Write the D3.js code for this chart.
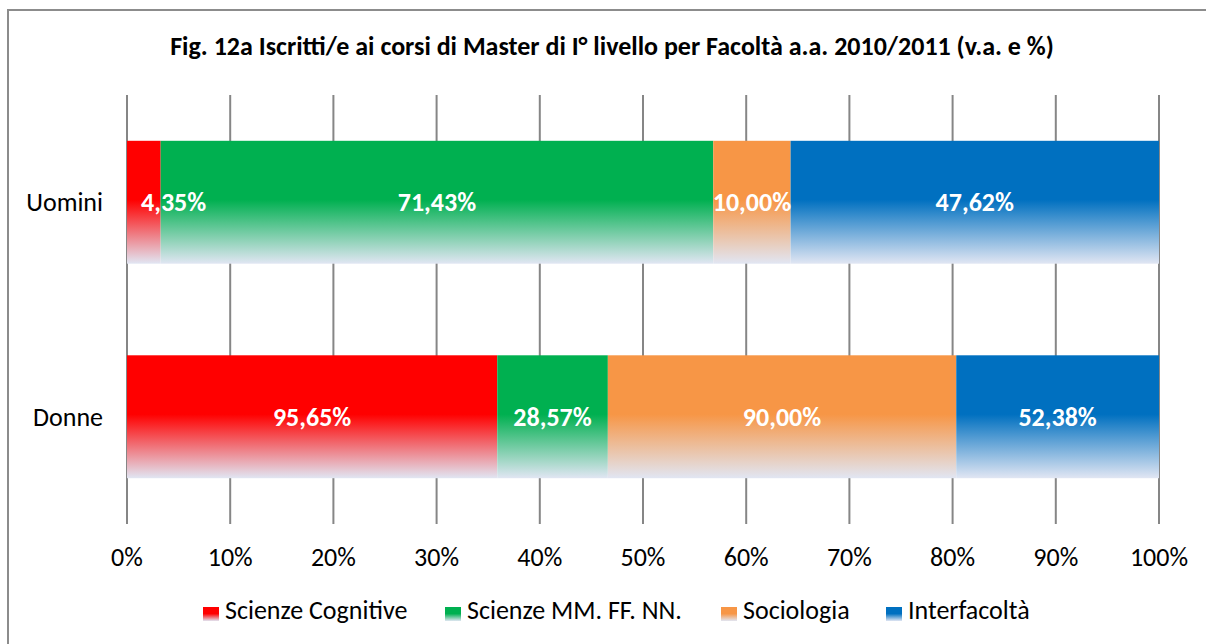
<!DOCTYPE html>
<html>
<head>
<meta charset="utf-8">
<script src="https://cdn.jsdelivr.net/npm/d3@7"></script>
<style>
  body { margin: 0; background: #fff; }
  svg text { font-family: Calibri, Carlito, Lato, sans-serif; }
</style>
</head>
<body>
<div class="chart"></div>
<script>

// Data (percent of each faculty, by gender)
var categories = ["Uomini", "Donne"];
var faculties = ["Scienze Cognitive", "Scienze MM. FF. NN.", "Sociologia", "Interfacoltà"];
var uomini = [4.35, 71.43, 10.00, 47.62];
var donne = [95.65, 28.57, 90.00, 52.38];
var tickValues = [0, 10, 20, 30, 40, 50, 60, 70, 80, 90, 100];
var colors = ["#ff0000", "#00b050", "#f79646", "#0070c0"];

var width = 1206, height = 644;

var svg = d3.select(".chart").append("svg")
    .attr("width", width)
    .attr("height", height);

// gradients: solid on top, fading to pale at the bottom
var defs = svg.append("defs");
colors.forEach(function(c, i) {
    var g = defs.append("linearGradient")
        .attr("id", "grad" + i)
        .attr("x1", 0).attr("y1", 0)
        .attr("x2", 0).attr("y2", 1);
    g.append("stop").attr("offset", "0%").attr("stop-color", c);
    g.append("stop").attr("offset", "48%").attr("stop-color", c);
    g.append("stop").attr("offset", "100%").attr("stop-color", "#e1e6f3");
});

// outer frame
svg.append("rect")
    .attr("x", 8).attr("y", 10)
    .attr("width", 1210).attr("height", 650)
    .attr("fill", "none")
    .attr("stroke", "#8c8c8c")
    .attr("stroke-width", 2);

// title
svg.append("text")
    .attr("x", 612)
    .attr("y", 55)
    .attr("text-anchor", "middle")
    .attr("font-weight", "bold")
    .attr("font-size", 26)
    .text("Fig. 12a Iscritti/e ai corsi di Master di I° livello per Facoltà a.a. 2010/2011 (v.a. e %)");

// scales
var x = d3.scaleLinear().domain([0, 100]).range([127, 1159]);
var y = d3.scaleBand()
    .domain(categories)
    .range([95, 524])
    .paddingInner(0.427)
    .paddingOuter(0.2135);

// build stacked rows, normalised to 100%
var rows = categories.map(function(cat, ci) {
    var vals = ci === 0 ? uomini : donne;
    var row = { cat: cat };
    faculties.forEach(function(f, i) { row[f] = vals[i]; });
    return row;
});
var stack = d3.stack().keys(faculties).offset(d3.stackOffsetExpand);
var layers = stack(rows);

// grid lines
svg.append("g").selectAll("line")
    .data(tickValues)
    .enter().append("line")
    .attr("x1", function(d) { return x(d); })
    .attr("x2", function(d) { return x(d); })
    .attr("y1", 95)
    .attr("y2", 524)
    .attr("stroke", "#868686")
    .attr("stroke-width", 2);

// bars
var layer = svg.selectAll(".layer")
    .data(layers)
    .enter().append("g")
    .attr("class", "layer")
    .attr("fill", function(d, i) { return "url(#grad" + i + ")"; });

layer.selectAll("rect")
    .data(function(d) { return d; })
    .enter().append("rect")
    .attr("x", function(d) { return x(d[0] * 100); })
    .attr("y", function(d) { return y(d.data.cat); })
    .attr("width", function(d) { return x(d[1] * 100) - x(d[0] * 100); })
    .attr("height", y.bandwidth());

// value labels (own group, on top of all bars)
var labelGroup = svg.append("g").attr("class", "labels");
layers.forEach(function(L) {
    labelGroup.selectAll(null)
        .data(L)
        .enter().append("text")
        .attr("y", function(d) { return y(d.data.cat) + y.bandwidth() / 2 + 9; })
        .attr("fill", "#fff")
        .attr("font-weight", "bold")
        .attr("font-size", 26)
        .text(function(d) { return d3.format(".2f")(d.data[L.key]).replace(".", ",") + "%"; })
        .each(function(d) {
            var x0 = x(d[0] * 100), x1 = x(d[1] * 100);
            var tw = this.getComputedTextLength();
            if (tw > (x1 - x0) * 1.5) {
                d3.select(this).attr("x", x0 + 14).attr("text-anchor", "start");
            } else {
                d3.select(this).attr("x", (x0 + x1) / 2).attr("text-anchor", "middle");
            }
        });
});

// category labels
svg.append("g").selectAll("text")
    .data(categories)
    .enter().append("text")
    .attr("x", 103)
    .attr("y", function(d) { return y(d) + y.bandwidth() / 2 + 9; })
    .attr("text-anchor", "end")
    .attr("font-size", 26)
    .attr("fill", "#000")
    .text(function(d) { return d; });

// x axis tick labels
svg.append("g").selectAll("text")
    .data(tickValues)
    .enter().append("text")
    .attr("x", function(d) { return x(d); })
    .attr("y", 566)
    .attr("text-anchor", "middle")
    .attr("font-size", 26)
    .text(function(d) { return d + "%"; });

// legend
var legendX = [203, 445, 721, 886];
var legend = svg.append("g").selectAll("g")
    .data(faculties)
    .enter().append("g")
    .attr("transform", function(d, i) { return "translate(" + legendX[i] + ",607)"; });

legend.append("rect")
    .attr("width", 16)
    .attr("height", 14)
    .attr("fill", function(d, i) { return "url(#grad" + i + ")"; });

legend.append("text")
    .attr("x", 22)
    .attr("y", 12)
    .attr("font-size", 26)
    .text(function(d) { return d; });

</script>
</body>
</html>
